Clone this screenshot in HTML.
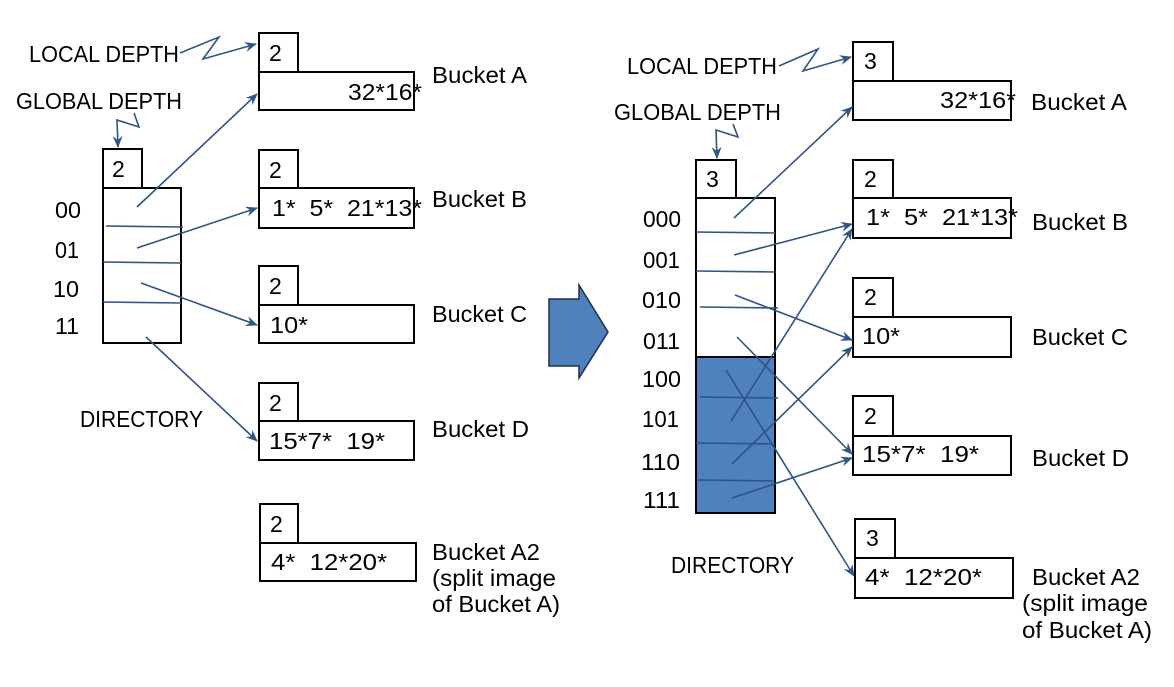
<!DOCTYPE html>
<html><head><meta charset="utf-8"><style>
html,body{margin:0;padding:0;background:#fff;}
svg{display:block;}
text{font-family:"Liberation Sans","DejaVu Sans",sans-serif;font-size:23px;fill:#000;white-space:pre;}
.b{fill:#fff;stroke:#000;stroke-width:2;}
.l{stroke:#2f5486;stroke-width:1.6;fill:none;}
</style></head><body>
<svg width="1174" height="687" viewBox="0 0 1174 687" xmlns="http://www.w3.org/2000/svg" xml:space="preserve">
<defs>
<marker id="a" markerWidth="12" markerHeight="10" refX="11" refY="5" orient="auto" markerUnits="userSpaceOnUse">
<path d="M0,0 L12,5 L0,10 L4,5 z" fill="#2f5486"/></marker>
</defs>

<text x="29" y="62" textLength="150" lengthAdjust="spacingAndGlyphs">LOCAL DEPTH</text>
<polyline class="l" points="180,53 219,37 203,59 256,44" marker-end="url(#a)"/>
<text x="16" y="109" textLength="166" lengthAdjust="spacingAndGlyphs">GLOBAL DEPTH</text>
<polyline class="l" points="134,113 139,127 117,120 118,147" marker-end="url(#a)"/>

<rect class="b" x="103" y="149" width="39" height="39"/>
<text x="112" y="177">2</text>
<rect class="b" x="103" y="188" width="78" height="155"/>
<line class="l" x1="106" y1="226" x2="183" y2="227"/>
<line class="l" x1="103" y1="262" x2="181" y2="263"/>
<line class="l" x1="103" y1="302" x2="181" y2="303"/>
<text x="55" y="218" textLength="26" lengthAdjust="spacingAndGlyphs">00</text>
<text x="55" y="258" textLength="24" lengthAdjust="spacingAndGlyphs">01</text>
<text x="53" y="297" textLength="26" lengthAdjust="spacingAndGlyphs">10</text>
<text x="55" y="334" textLength="24" lengthAdjust="spacingAndGlyphs">11</text>
<text x="80" y="427" textLength="123" lengthAdjust="spacingAndGlyphs">DIRECTORY</text>

<rect class="b" x="259" y="33" width="39" height="39"/><text x="269" y="61">2</text>
<rect class="b" x="259" y="72" width="155" height="38"/><text x="348" y="100" textLength="74" lengthAdjust="spacingAndGlyphs">32*16*</text>
<text x="432" y="83" textLength="95" lengthAdjust="spacingAndGlyphs">Bucket A</text>

<rect class="b" x="259" y="150" width="39" height="38"/><text x="269" y="178">2</text>
<rect class="b" x="259" y="188" width="155" height="40"/><text x="272" y="216" textLength="150" lengthAdjust="spacingAndGlyphs">1*  5*  21*13*</text>
<text x="432" y="207" textLength="95" lengthAdjust="spacingAndGlyphs">Bucket B</text>

<rect class="b" x="259" y="266" width="39" height="39"/><text x="269" y="294">2</text>
<rect class="b" x="259" y="305" width="155" height="38"/><text x="270" y="333" textLength="38" lengthAdjust="spacingAndGlyphs">10*</text>
<text x="432" y="322" textLength="95" lengthAdjust="spacingAndGlyphs">Bucket C</text>

<rect class="b" x="259" y="383" width="39" height="38"/><text x="269" y="411">2</text>
<rect class="b" x="259" y="421" width="155" height="39"/><text x="269" y="449" textLength="116" lengthAdjust="spacingAndGlyphs">15*7*  19*</text>
<text x="432" y="437" textLength="97" lengthAdjust="spacingAndGlyphs">Bucket D</text>

<rect class="b" x="260" y="504" width="38" height="39"/><text x="270" y="532">2</text>
<rect class="b" x="260" y="543" width="156" height="38"/><text x="271" y="570" textLength="116" lengthAdjust="spacingAndGlyphs">4*  12*20*</text>
<text x="432" y="560" textLength="108" lengthAdjust="spacingAndGlyphs">Bucket A2</text>
<text x="432" y="586" textLength="124" lengthAdjust="spacingAndGlyphs">(split image</text>
<text x="432" y="612" textLength="128" lengthAdjust="spacingAndGlyphs">of Bucket A)</text>

<line class="l" x1="137" y1="207" x2="257" y2="94" marker-end="url(#a)"/>
<line class="l" x1="137" y1="248" x2="257" y2="208" marker-end="url(#a)"/>
<line class="l" x1="141" y1="283" x2="257" y2="325" marker-end="url(#a)"/>
<line class="l" x1="146" y1="337" x2="257" y2="441" marker-end="url(#a)"/>

<polygon points="549,299 579,299 579,285 608,332 579,378 579,366 549,366" fill="#4f81bd" stroke="#1f2f4a" stroke-width="1.5"/>

<text x="627" y="74" textLength="150" lengthAdjust="spacingAndGlyphs">LOCAL DEPTH</text>
<polyline class="l" points="779,66 818,49 803,71 851,57" marker-end="url(#a)"/>
<text x="614" y="120" textLength="167" lengthAdjust="spacingAndGlyphs">GLOBAL DEPTH</text>
<polyline class="l" points="733,124 738,137 716,130 717,158" marker-end="url(#a)"/>

<rect class="b" x="696" y="160" width="40" height="38"/><text x="706" y="187">3</text>
<rect x="696" y="198" width="79" height="159" fill="#fff"/>
<rect x="696" y="357" width="79" height="156" fill="#4f81bd"/>
<rect x="696" y="198" width="79" height="315" fill="none" stroke="#000" stroke-width="2"/>
<line x1="696" y1="357" x2="775" y2="357" stroke="#000" stroke-width="2"/>
<line class="l" x1="696" y1="232" x2="775" y2="233"/>
<line class="l" x1="696" y1="271" x2="775" y2="272"/>
<line class="l" x1="700" y1="307" x2="778" y2="308"/>
<line class="l" x1="700" y1="397" x2="778" y2="398"/>
<line class="l" x1="696" y1="443" x2="775" y2="444"/>
<line class="l" x1="698" y1="480" x2="775" y2="481"/>
<text x="643" y="227" textLength="38" lengthAdjust="spacingAndGlyphs">000</text>
<text x="643" y="268" textLength="37" lengthAdjust="spacingAndGlyphs">001</text>
<text x="642" y="308" textLength="39" lengthAdjust="spacingAndGlyphs">010</text>
<text x="643" y="349" textLength="37" lengthAdjust="spacingAndGlyphs">011</text>
<text x="642" y="387" textLength="39" lengthAdjust="spacingAndGlyphs">100</text>
<text x="642" y="427" textLength="37" lengthAdjust="spacingAndGlyphs">101</text>
<text x="641" y="470" textLength="39" lengthAdjust="spacingAndGlyphs">110</text>
<text x="643" y="508" textLength="37" lengthAdjust="spacingAndGlyphs">111</text>
<text x="671" y="573" textLength="123" lengthAdjust="spacingAndGlyphs">DIRECTORY</text>

<rect class="b" x="853" y="42" width="40" height="39"/><text x="864" y="69">3</text>
<rect class="b" x="853" y="81" width="158" height="39"/><text x="940" y="108" textLength="76" lengthAdjust="spacingAndGlyphs">32*16*</text>
<text x="1031" y="110" textLength="96" lengthAdjust="spacingAndGlyphs">Bucket A</text>

<rect class="b" x="853" y="160" width="40" height="38"/><text x="864" y="187">2</text>
<rect class="b" x="853" y="198" width="158" height="40"/><text x="866" y="225" textLength="152" lengthAdjust="spacingAndGlyphs">1*  5*  21*13*</text>
<text x="1032" y="230" textLength="96" lengthAdjust="spacingAndGlyphs">Bucket B</text>

<rect class="b" x="853" y="278" width="40" height="39"/><text x="864" y="305">2</text>
<rect class="b" x="853" y="317" width="158" height="40"/><text x="862" y="344" textLength="38" lengthAdjust="spacingAndGlyphs">10*</text>
<text x="1032" y="345" textLength="96" lengthAdjust="spacingAndGlyphs">Bucket C</text>

<rect class="b" x="853" y="396" width="40" height="40"/><text x="864" y="424">2</text>
<rect class="b" x="853" y="436" width="158" height="39"/><text x="862" y="462" textLength="117" lengthAdjust="spacingAndGlyphs">15*7*  19*</text>
<text x="1032" y="466" textLength="97" lengthAdjust="spacingAndGlyphs">Bucket D</text>

<rect class="b" x="855" y="519" width="40" height="39"/><text x="866" y="546">3</text>
<rect class="b" x="855" y="558" width="158" height="40"/><text x="865" y="585" textLength="117" lengthAdjust="spacingAndGlyphs">4*  12*20*</text>
<text x="1032" y="585" textLength="108" lengthAdjust="spacingAndGlyphs">Bucket A2</text>
<text x="1022" y="611" textLength="126" lengthAdjust="spacingAndGlyphs">(split image</text>
<text x="1022" y="638" textLength="130" lengthAdjust="spacingAndGlyphs">of Bucket A)</text>

<line class="l" x1="734" y1="218" x2="852" y2="107" marker-end="url(#a)"/>
<line class="l" x1="734" y1="255" x2="852" y2="224" marker-end="url(#a)"/>
<line class="l" x1="735" y1="295" x2="852" y2="340" marker-end="url(#a)"/>
<line class="l" x1="737" y1="337" x2="852" y2="454" marker-end="url(#a)"/>
<line class="l" x1="726" y1="370" x2="854" y2="576" marker-end="url(#a)"/>
<line class="l" x1="731" y1="421" x2="852" y2="229" marker-end="url(#a)"/>
<line class="l" x1="732" y1="464" x2="852" y2="347" marker-end="url(#a)"/>
<line class="l" x1="732" y1="498" x2="852" y2="458" marker-end="url(#a)"/>
</svg>
</body></html>
